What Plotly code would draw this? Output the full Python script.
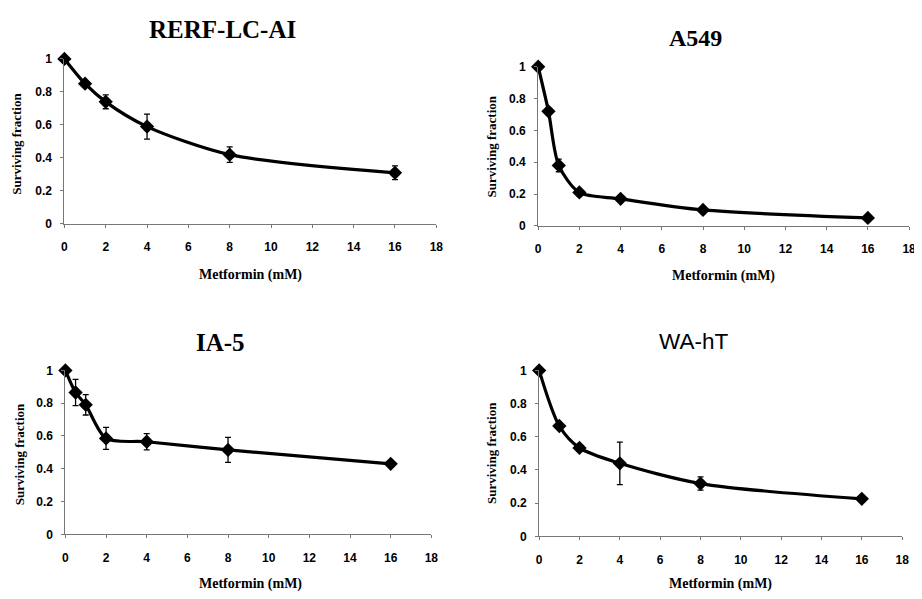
import plotly.graph_objects as go

x_rerf = [0, 1, 2, 4, 8, 16]
y_rerf = [1.0, 0.85, 0.74, 0.59, 0.42, 0.31]
e_rerf = [0.0, 0.02, 0.042, 0.076, 0.047, 0.042]

x_a549 = [0, 0.5, 1, 2, 4, 8, 16]
y_a549 = [1.0, 0.72, 0.38, 0.21, 0.17, 0.10, 0.05]
e_a549 = [0.0, 0.02, 0.04, 0.02, 0.015, 0.01, 0.01]

x_ia5 = [0, 0.5, 1, 2, 4, 8, 16]
y_ia5 = [1.0, 0.865, 0.79, 0.585, 0.565, 0.515, 0.43]
e_ia5 = [0.0, 0.08, 0.062, 0.067, 0.05, 0.076, 0.01]

x_wa = [0, 1, 2, 4, 8, 16]
y_wa = [1.0, 0.665, 0.533, 0.44, 0.318, 0.226]
e_wa = [0.0, 0.015, 0.02, 0.128, 0.04, 0.01]

titles = ["RERF-LC-AI", "A549", "IA-5", "WA-hT"]
x_ticks = [0, 2, 4, 6, 8, 10, 12, 14, 16, 18]
y_ticks = [0, 0.2, 0.4, 0.6, 0.8, 1]
y_tick_text = ["0", "0.2", "0.4", "0.6", "0.8", "1"]
x_title = "Metformin (mM)"
y_title = "Surviving fraction"

OFF = 8  # default page body margin
W, H = 922 - OFF, 599 - OFF
def px(x): return (x - OFF) / W
def py(y): return 1 - (y - OFF) / H

# panel geometry in reference pixels: (x0, x18, y1, y0)
panels = [
    (62, 438, 53, 222),
    (541, 916, 61, 224),
    (63, 433, 372, 540),
    (542, 909, 372, 542),
]
title_pos = [(222, 23), (700, 32), (220, 343), (698, 342)]
title_font = [
    dict(family="Liberation Serif", size=25, color="black"),
    dict(family="Liberation Serif", size=24, color="black"),
    dict(family="Liberation Serif", size=25, color="black"),
    dict(family="Liberation Sans", size=22.5, color="black"),
]
title_bold = [True, True, True, False]
xlab_pos = [(250, 274), (728, 275), (250, 591), (725, 591)]
ylab_pos = [(14, 140), (494, 143), (16, 458), (494, 457)]

data = [(x_rerf, y_rerf, e_rerf), (x_a549, y_a549, e_a549),
        (x_ia5, y_ia5, e_ia5), (x_wa, y_wa, e_wa)]

fig = go.Figure()
annotations = []
layout = {}
for i, ((xs, ys, es), (x0, x18, y1, y0)) in enumerate(zip(data, panels)):
    n = "" if i == 0 else str(i + 1)
    fig.add_trace(go.Scatter(
        x=xs, y=ys, mode="lines+markers",
        line=dict(color="black", width=3.2, shape="spline", smoothing=0.8),
        marker=dict(symbol="diamond", size=11, color="black"),
        error_y=dict(type="data", array=es, visible=True, color="black",
                     thickness=1.3, width=3),
        xaxis="x" + n, yaxis="y" + n, showlegend=False, cliponaxis=False,
    ))
    tickfont = dict(family="Liberation Sans", size=12, color="black", weight="bold")
    layout["xaxis" + n] = dict(
        domain=[px(x0), px(x18)], range=[0, 18], anchor="y" + n,
        tickvals=x_ticks, ticktext=[str(t) for t in x_ticks],
        showgrid=False, zeroline=False, showline=True, linecolor="#777",
        linewidth=1, ticks="outside", ticklen=3, tickcolor="#777",
        tickfont=tickfont, ticklabelstandoff=9,
    )
    layout["yaxis" + n] = dict(
        domain=[py(y0), py(y1)], range=[0, 1], anchor="x" + n,
        tickvals=y_ticks, ticktext=y_tick_text,
        showgrid=False, zeroline=False, showline=True, linecolor="#777",
        linewidth=1, ticks="outside", ticklen=3, tickcolor="#777",
        tickfont=tickfont, ticklabelstandoff=6,
    )
    tx, ty = title_pos[i]
    annotations.append(dict(
        text=("<b>%s</b>" % titles[i]) if title_bold[i] else titles[i],
        x=px(tx), y=py(ty), xref="paper", yref="paper",
        showarrow=False, font=title_font[i], xanchor="center", yanchor="middle"))
    lx, ly = xlab_pos[i]
    annotations.append(dict(
        text="<b>%s</b>" % x_title, x=px(lx), y=py(ly), xref="paper", yref="paper",
        showarrow=False, font=dict(family="Liberation Serif", size=14, color="black"),
        xanchor="center", yanchor="middle"))
    yx, yy = ylab_pos[i]
    annotations.append(dict(
        text="<b>%s</b>" % y_title, x=px(yx), y=py(yy), xref="paper", yref="paper",
        showarrow=False, textangle=-90,
        font=dict(family="Liberation Serif", size=13, color="black"),
        xanchor="center", yanchor="middle"))

fig.update_layout(
    width=W, height=H, margin=dict(l=0, r=0, t=0, b=0),
    paper_bgcolor="white", plot_bgcolor="white",
    annotations=annotations, **layout,
)
fig.write_html("out.html")
